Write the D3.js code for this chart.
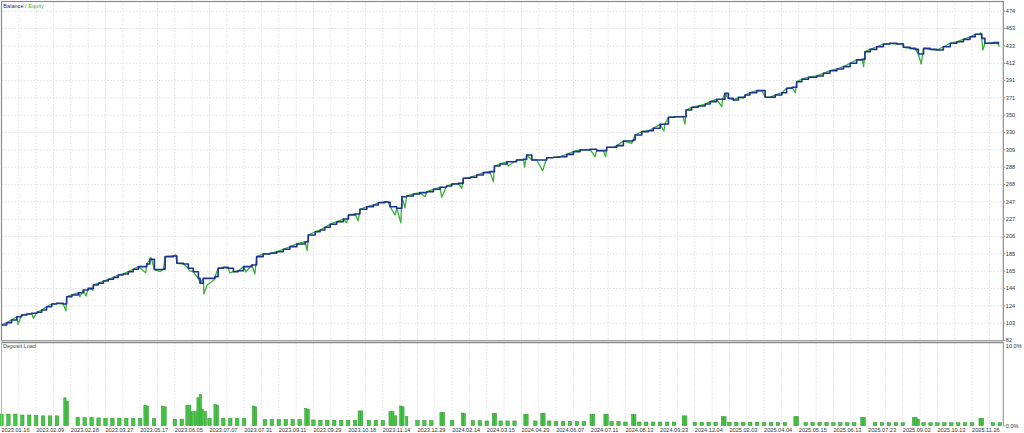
<!DOCTYPE html>
<html><head><meta charset="utf-8">
<script src="https://cdn.jsdelivr.net/npm/d3@7"></script>
<style>body{margin:0;background:#fff}svg{display:block}text{font-family:"Liberation Sans",Arial,sans-serif}</style>
</head><body><svg id="c" width="1024" height="433"></svg>
<script>
const dateLabels = ["2023.01.16","2023.02.09","2023.02.28","2023.03.27","2023.05.17","2023.06.05","2023.07.07","2023.07.31","2023.09.11","2023.09.29","2023.10.18","2023.11.14","2023.12.29","2024.02.14","2024.03.15","2024.04.29","2024.06.07","2024.07.11","2024.08.13","2024.09.23","2024.12.04","2025.02.03","2025.04.04","2025.05.15","2025.06.13","2025.07.23","2025.09.02","2025.10.13","2025.11.26"];
const yTickLabels = [82,103,124,144,165,185,206,227,247,268,288,309,330,350,371,391,412,433,453,474];
const loadTickLabels = ["0.0%","10.0%"];

// [deal index, balance]
const balance = [[0,100.5],[1.5,103.2],[2.9,106.4],[4.4,110.3],[5.8,112.4],[7.3,113.5],[8.7,114.4],[10.2,115.6],[11.6,118.3],[13,122.2],[14.5,125.4],[15.9,126.3],[17.8,125.4],[18.8,134.1],[20.3,136.2],[22.2,138.9],[23.6,142.1],[25,144.1],[26.5,148.1],[27.9,150.1],[29.4,152.8],[30.8,154.9],[32.3,157.2],[33.7,160],[35.1,161.2],[36.6,163.9],[38,166.8],[39.5,169.9],[41.9,173],[42.8,178.6],[43.3,178.6],[44.1,166.5],[46.7,167],[47.2,181.8],[49.6,182.6],[50.6,173.9],[52.5,173],[53.9,168],[55.3,163.9],[56.8,156],[57.3,150.1],[58.2,156],[61.6,158],[62.5,168],[64,169.1],[65.4,168],[66.9,163.9],[68.3,165.1],[69.8,169.9],[72.2,171.9],[73.6,181.8],[75.5,185],[77.5,185.8],[79.4,187.7],[81.3,190.6],[83.2,193.7],[85.2,196.9],[87.6,199.6],[88.5,207.6],[90.5,211.5],[91.9,213.5],[93.3,216.8],[94.8,220.3],[96.7,223.4],[98.6,226.6],[100.1,231.4],[102,232.6],[103.4,238.2],[105.4,241.3],[107.3,243.3],[108.7,246],[110.6,247.2],[111.5,246.5],[112.1,241.3],[114,239.4],[115.5,253.2],[116.9,254],[118.8,256.4],[120.7,258],[122.7,259.1],[124.6,262],[126.5,264.4],[128.4,265.9],[129.9,268.3],[131.8,269.1],[133.2,275.1],[135.2,276.3],[137.1,279],[139,281.8],[140.9,283],[142.2,289.7],[143.8,292.1],[145.8,294.8],[148.6,296.9],[150.6,297.7],[151.5,302.8],[153,296.9],[154.4,296.9],[157.3,299.6],[159.2,300.1],[161.1,300.8],[163.1,303.6],[165,306.8],[166.9,308.8],[169.8,309.6],[171.7,308],[173.6,308],[174.6,312],[176.5,312],[177.5,314],[179.4,319.5],[182.2,320.7],[182.8,326.6],[184.7,330.6],[186.6,331.7],[188,334.6],[190,339.4],[191.4,339.7],[192.4,347.7],[194.3,348.4],[196.6,348.4],[197.5,356.4],[199.1,359.6],[201,361.2],[203,363.5],[204.4,366.3],[206.3,369.1],[208,369.1],[208.7,376.2],[209.7,370.3],[211.1,368.3],[212.6,371.5],[214.5,374.2],[215.9,377],[217.9,379.4],[219.4,379.4],[220.3,371.5],[221.7,371.5],[223.2,374.2],[225.1,377],[226.5,382.2],[228.1,383.4],[229.4,390.1],[230.9,393],[232.8,395.4],[235.2,396.9],[237.1,400.1],[239,403.2],[241,405.2],[242.9,408],[244.8,412],[246.7,416],[248.3,416.7],[249.1,425.8],[250.6,428.6],[252.5,431.7],[254.4,434.9],[256.3,435.8],[258.3,434.9],[260.2,431],[262.1,429.8],[263.7,428.6],[264.5,423.1],[266,429.8],[267.9,428.6],[269.8,427.8],[271.7,431.7],[273.7,435.8],[275.6,437.7],[277.5,440.5],[279.4,443.6],[280.9,446.5],[282.3,446.8],[282.8,441.7],[283.7,435.8],[286.2,436.6],[287.6,434.9]];

// [deal index, equity] where equity departs from balance
const equityDips = [[4.8,101.3],[9.2,108.4],[18.6,117.1],[22.6,134.1],[24.4,135],[26.4,142.1],[41.6,162.7],[43.0,181],[45.8,164],[50.3,184],[54.2,165],[58.4,137.4],[59.3,148],[61.3,154],[65.9,162.4],[70.5,163.5],[73.1,161.2],[88.2,188.9],[99.6,222.2],[102.9,224.6],[113.5,231.4],[115.2,222.2],[116.4,240],[122.2,253.2],[127,252.5],[132.8,263.2],[141.9,271],[146.2,289.7],[150.9,288.2],[156.1,284.1],[171.2,300.8],[174.3,300.8],[181.8,316.7],[191.1,331.4],[197.2,339.7],[207.8,360.3],[214,370.3],[229,377],[248.7,408],[260,435.8],[265.3,411.1],[282.5,448.4],[283.1,427.8],[287.8,431.7]];

// deposit load (%) for the regular bars, one every 2 deals
const loadBase = [1.42,1.42,1.42,1.3,1.3,1.25,1.2,1.2,1.2,1.2,
1.0,1.0,1.0,1.0,0.95,0.9,0.9,0.9,0.9,0.9,
0.9,0.85,0.85,0.85,0.8,0.8,0.8,0.8,0.8,0.8,
0.9,0.9,0.9,0.9,0.9,0.9,0.8,0.75,0.75,0.75,
0.75,0.75,0.75,0.75,0.75,0.7,0.66,0.66,0.66,0.66,
0.66,0.66,0.66,0.66,0.66,0.66,0.66,0.66,0.66,0.66,
0.62,0.62,0.62,0.62,0.62,0.62,0.62,0.62,0.62,0.62,
0.58,0.58,0.58,0.58,0.58,0.58,0.58,0.58,0.58,0.58,
0.52,0.52,0.52,0.52,0.52,0.52,0.52,0.52,0.52,0.52,
0.45,0.45,0.45,0.45,0.45,0.45,0.45,0.45,0.45,0.45,
0.42,0.42,0.42,0.42,0.42,0.42,0.42,0.42,0.42,0.42,
0.4,0.4,0.4,0.4,0.4,0.4,0.4,0.4,0.4,0.4,
0.38,0.38,0.38,0.38,0.38,0.38,0.38,0.38,0.38,0.38,
0.36,0.36,0.36,0.36,0.36,0.36,0.36,0.36,0.36,0.36,
0.36,0.36,0.36,0.36,0.36];
// [deal index, deposit load %] for the taller bars
const loadSpikes = [[18.3,3.4],[19.0,3.0],[41.4,2.5],[42.1,2.4],[46.4,2.4],[47.2,2.3],[53.5,2.5],[54.3,2.5],[55.0,1.7],[55.9,1.7],[56.7,3.4],[57.4,3.8],[57.9,2.0],[58.8,1.7],[61.6,2.6],[62.3,2.5],[72.7,2.4],[73.3,2.3],[87.8,2.1],[88.5,2.0],[103.2,1.8],[103.9,1.8],[112.1,1.7],[112.9,1.7],[113.7,1.2],[115.2,2.4],[115.8,2.3],[116.9,1.1],[126.8,1.6],[127.5,1.6],[133.0,1.55],[133.5,1.5],[141.9,1.5],[142.5,1.5],[151.0,1.4],[151.6,1.4],[155.9,1.5],[156.5,1.5],[170.1,1.4],[170.8,1.4],[174.1,1.4],[174.7,1.4],[182.1,1.35],[182.7,1.35],[196.7,1.2],[197.4,1.2],[208.0,1.1],[208.7,1.1],[228.9,1.1],[229.6,1.1],[248.2,1.0],[248.9,1.0],[263.1,1.0],[263.8,1.0],[264.5,0.8],[282.3,0.9],[283.0,0.9]];

const svg = d3.select("#c");
const L=1.5,R=1003.3,T=1.5,B=340.8,DT=342.6,DB=425.7;
const x = d3.scaleLinear().domain([0,289]).range([L,R]);
const y = d3.scaleLinear().domain([82,474]).range([340.5,11.2]);
const yl = d3.scaleLinear().domain([0,10]).range([DB,343.6]);
const yStep = (474-82)/(yTickLabels.length-1);
const yTickVals = yTickLabels.map((d,i)=>82+i*yStep);

svg.append("rect").attr("width",1024).attr("height",433).attr("fill","#fff");

// grid
const gridX = d3.range(5,289,5);
const g = svg.append("g").attr("stroke","#d9d9d9").attr("stroke-width",0.8).attr("stroke-dasharray","1.6,1.6");
g.selectAll(".vx").data(gridX).join("line").attr("x1",d=>x(d)).attr("x2",d=>x(d)).attr("y1",T).attr("y2",B);
g.selectAll(".vd").data(gridX).join("line").attr("x1",d=>x(d)).attr("x2",d=>x(d)).attr("y1",DT).attr("y2",DB);
g.selectAll(".hy").data(yTickVals.slice(1)).join("line").attr("x1",L).attr("x2",R).attr("y1",d=>y(d)).attr("y2",d=>y(d));

// clip
svg.append("clipPath").attr("id","mc").append("rect").attr("x",L).attr("y",T).attr("width",R-L).attr("height",B-T);

const line = d3.line().x(d=>x(d[0])).y(d=>y(d[1]));
const stepLine = d3.line().x(d=>x(d[0])).y(d=>y(d[1])).curve(d3.curveStepAfter);
const equity = balance.concat(equityDips).sort((a,b)=>a[0]-b[0]);
const lg = svg.append("g").attr("clip-path","url(#mc)");
lg.append("path").attr("d",line(equity)).attr("fill","none").attr("stroke","#36b336").attr("stroke-width",1.3).attr("stroke-linejoin","round");
lg.append("path").attr("d",stepLine(balance)).attr("fill","none").attr("stroke","#1c3390").attr("stroke-width",1.6).attr("stroke-linejoin","round");

// deposit load bars
const base = loadBase.map((v,i)=>[i*2,v]).filter(b=>!loadSpikes.some(s=>Math.abs(s[0]-b[0])<1.2));
const bw = x(1)-x(0);
svg.append("g").selectAll("rect").data(base).join("rect")
  .attr("x",d=>x(d[0])-bw*0.5).attr("width",bw*1.0).attr("y",d=>yl(d[1])).attr("height",d=>DB-yl(d[1]))
  .attr("fill","#45c645").attr("stroke","#2a912a").attr("stroke-width",0.5);
svg.append("g").selectAll("rect").data(loadSpikes).join("rect")
  .attr("x",d=>x(d[0])-bw*0.33).attr("width",bw*0.66).attr("y",d=>yl(d[1])).attr("height",d=>DB-yl(d[1]))
  .attr("fill","#45c645").attr("stroke","#2a912a").attr("stroke-width",0.5);

// frames
svg.append("rect").attr("x",L).attr("y",T).attr("width",R-L).attr("height",B-T).attr("fill","none").attr("stroke","#8a8a8a").attr("stroke-width",1.2);
svg.append("line").attr("x1",L).attr("x2",R).attr("y1",DT).attr("y2",DT).attr("stroke","#8a8a8a").attr("stroke-width",1.2);
svg.append("line").attr("x1",L).attr("x2",L).attr("y1",DT).attr("y2",DB).attr("stroke","#b0b0b0").attr("stroke-width",1);
svg.append("line").attr("x1",R).attr("x2",R).attr("y1",DT).attr("y2",DB).attr("stroke","#8a8a8a").attr("stroke-width",1);

// right axis
const fs = 5.6;
const ax = svg.append("g").attr("font-size",fs).attr("fill","#333");
ax.selectAll(".yt").data(yTickVals).join("line").attr("x1",R).attr("x2",R+2).attr("y1",d=>y(d)).attr("y2",d=>y(d)).attr("stroke","#8a8a8a").attr("stroke-width",0.8);
ax.selectAll(".yl").data(yTickVals).join("text").attr("x",R+2.5).attr("y",(d,i)=>y(d)-(i===0?0.8:0)).attr("dy","0.35em").text((d,i)=>yTickLabels[i]);
ax.append("text").attr("x",R+2.5).attr("y",yl(10)+2.4).attr("dy","0.35em").text(loadTickLabels[1]);
ax.append("line").attr("x1",R).attr("x2",R+2).attr("y1",yl(0)).attr("y2",yl(0)).attr("stroke","#8a8a8a").attr("stroke-width",0.8);
ax.append("text").attr("x",R+2.5).attr("y",yl(0)).attr("dy","0.35em").text(loadTickLabels[0]);

// bottom axis
ax.selectAll(".xl").data(dateLabels).join("text").attr("x",(d,i)=>x(i*10)).attr("y",429.6).attr("dy","0.35em").text(d=>d);

// titles
const t1 = svg.append("text").attr("x",3.3).attr("y",5.8).attr("dy","0.35em").attr("font-size",fs);
t1.append("tspan").attr("fill","#1c2a8a").text("Balance");
t1.append("tspan").attr("fill","#666").text(" / ");
t1.append("tspan").attr("fill","#3cb83c").text("Equity");
svg.append("text").attr("x",3).attr("y",346.3).attr("dy","0.35em").attr("font-size",fs).attr("fill","#444").text("Deposit Load");
</script></body></html>
